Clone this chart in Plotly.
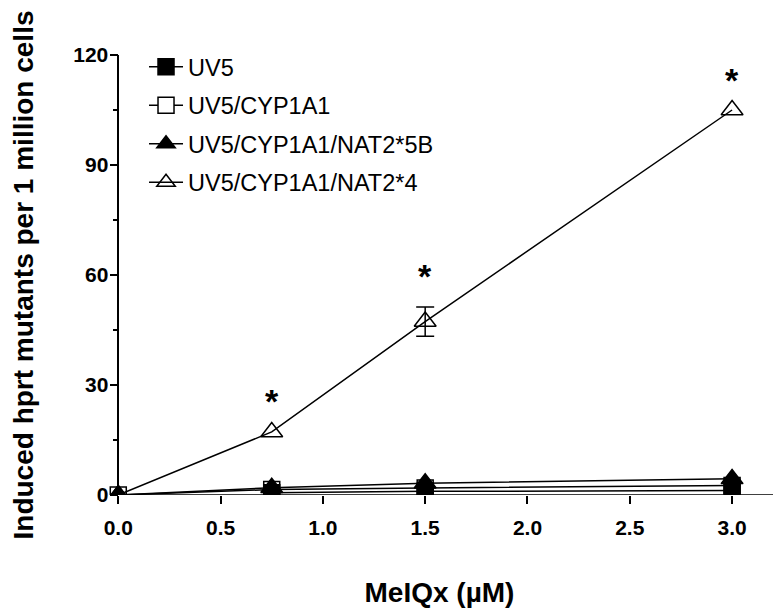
import plotly.graph_objects as go

# MeIQx dose (uM)
dose = [0.0, 0.75, 1.5, 3.0]

# induced hprt mutants per 1 million cells (no filled square visible at the origin)
uv5 = [None, 0.6, 1.0, 1.2]
uv5_cyp = [0.0, 1.5, 1.9, 2.6]
uv5_cyp_nat5b = [0.0, 2.0, 3.2, 4.4]
uv5_cyp_nat4 = [0.0, 17.2, 47.3, 105.0]
uv5_cyp_nat4_err = [0.0, 0.0, 4.0, 0.0]
significant = [False, True, True, True]

# drawn bottom to top; rank gives the legend order
# name, values, symbol, fill, legend rank
series = [
    ("UV5/CYP1A1", uv5_cyp, "square", "white", 2),
    ("UV5", uv5, "square", "black", 1),
    ("UV5/CYP1A1/NAT2*5B", uv5_cyp_nat5b, "triangle-up", "black", 3),
    ("UV5/CYP1A1/NAT2*4", uv5_cyp_nat4, "triangle-up-open", "black", 4),
]

FONT = "Liberation Sans, Arial, sans-serif"
X_MIN, X_MAX = -0.06, 3.2

fig = go.Figure()

for name, values, symbol, fill, rank in series:
    size = 19 if symbol.startswith("triangle") else 16
    fig.add_trace(
        go.Scatter(
            x=dose,
            y=values,
            name=name,
            mode="lines+markers",
            line=dict(color="black", width=1.5),
            marker=dict(symbol=symbol, size=size, color=fill,
                        line=dict(color="black", width=1.5)),
            legendgroup=name,
            legendrank=rank,
            connectgaps=True,
        )
    )

# error bar only where there is one
err_x = [d for d, e in zip(dose, uv5_cyp_nat4_err) if e > 0]
err_y = [v for v, e in zip(uv5_cyp_nat4, uv5_cyp_nat4_err) if e > 0]
err_v = [e for e in uv5_cyp_nat4_err if e > 0]
fig.add_trace(
    go.Scatter(
        x=err_x,
        y=err_y,
        mode="markers",
        marker=dict(size=1, color="rgba(0,0,0,0)"),
        error_y=dict(type="data", array=err_v, color="black", thickness=1.5, width=9),
        showlegend=False,
        hoverinfo="skip",
    )
)

# significance asterisks
for d, v, e, s in zip(dose, uv5_cyp_nat4, uv5_cyp_nat4_err, significant):
    if s:
        fig.add_annotation(
            x=d, y=v + e + 10.5, text="<b>*</b>", showarrow=False,
            yanchor="middle", yshift=-8,
            font=dict(family=FONT, size=34, color="black"),
        )

# x axis line starting at the y axis
fig.add_shape(
    type="line", xref="x", yref="y", x0=0, x1=X_MAX, y0=0, y1=0,
    line=dict(color="black", width=1.5), layer="above",
)

fig.update_layout(
    width=782,
    height=615,
    margin=dict(l=98, r=17, t=47, b=128, autoexpand=False),
    plot_bgcolor="white",
    paper_bgcolor="white",
    font=dict(family=FONT, color="black"),
    showlegend=True,
    legend=dict(
        x=0.057, y=1.023, xanchor="left", yanchor="top",
        font=dict(family=FONT, size=23.5, color="black"),
        tracegroupgap=5,
        itemwidth=34,
        bgcolor="rgba(0,0,0,0)",
    ),
    xaxis=dict(
        range=[X_MIN, X_MAX],
        automargin=False,
        tickvals=[0, 0.5, 1.0, 1.5, 2.0, 2.5, 3.0],
        ticktext=["0.0", "0.5", "1.0", "1.5", "2.0", "2.5", "3.0"],
        showline=False,
        showgrid=False,
        zeroline=False,
        ticks="outside",
        ticklen=8,
        tickwidth=1.5,
        tickcolor="black",
        ticklabelstandoff=6,
        tickfont=dict(family=FONT, size=21, weight="bold"),
        title=dict(text="MeIQx (µM)", font=dict(family=FONT, size=28, weight="bold"),
                   standoff=44),
    ),
    yaxis=dict(
        range=[0, 120],
        automargin=False,
        dtick=30,
        anchor="free",
        position=(0 - X_MIN) / (X_MAX - X_MIN),
        showline=True,
        linecolor="black",
        linewidth=1.5,
        showgrid=False,
        zeroline=False,
        ticks="outside",
        ticklen=8,
        tickwidth=1.5,
        tickcolor="black",
        ticklabelstandoff=-3,
        minor=dict(dtick=15, ticks="outside", ticklen=5, tickwidth=1.5, tickcolor="black"),
        tickfont=dict(family=FONT, size=21, weight="bold"),
        title=dict(text="Induced hprt mutants per 1 million cells",
                   font=dict(family=FONT, size=28, weight="bold"), standoff=35),
    ),
)

fig.write_html("out.html")
